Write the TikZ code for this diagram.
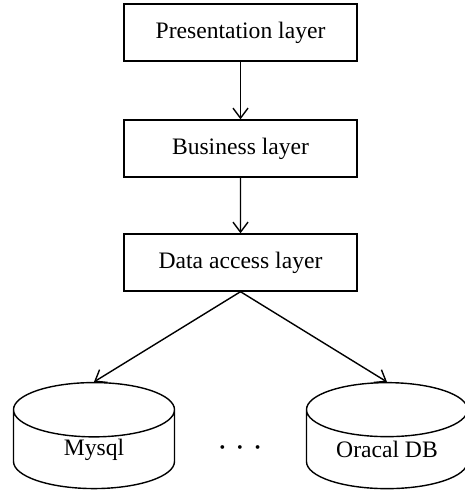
\documentclass[tikz,border=0pt]{standalone}
\usepackage{amsmath,amssymb}
\usepackage{fontspec}
\setmainfont{Liberation Serif}
\usetikzlibrary{shapes.geometric,arrows.meta}
\tikzset{
% Two node styles for the layer diagram: boxes and databases
layer node/.style={rectangle,draw,minimum width=116.5pt,minimum height=28.5pt,inner sep=0},
db node/.style={cylinder,draw,shape border rotate=90,aspect=0.9,minimum width=80.5pt,minimum height=53pt,inner sep=0}
}

\begin{document}
\begin{tikzpicture}[font=\fontsize{11.8}{14}\selectfont,line width=0.7pt,
    >={Straight Barb[length=5pt,width=7.5pt]},edge from parent/.style={draw,->}]
      \useasboundingbox (0,0) rectangle (232pt,245pt);
      % Specify spacing for each level of the tree
      \tikzstyle{level 1}=[level distance=58pt]
      \tikzstyle{level 2}=[level distance=57pt]
      \tikzstyle{level 3}=[level distance=93.5pt,sibling distance=146.5pt,
        edge from parent path={(\tikzparentnode.south) -- (\tikzchildnode.top)}]
      % The layers
      \node(0)[layer node] at (120.25pt,228.75pt) {Presentation layer}
      child{node(1)[layer node]{Business layer}
        child{node(2)[layer node]{Data access layer}
          % Databases below the data access layer
          child{node(3)[db node]{Mysql}}
          child{node(4)[db node]{\makebox[30pt]{Oracal DB}}}
        }
      };
      % more databases in between
      \node(dots) at (120pt,21pt) {$\boldsymbol{\cdot}$\hspace{5pt}$\boldsymbol{\cdot}$\hspace{5pt}$\boldsymbol{\cdot}$};
    \end{tikzpicture}
\end{document}
